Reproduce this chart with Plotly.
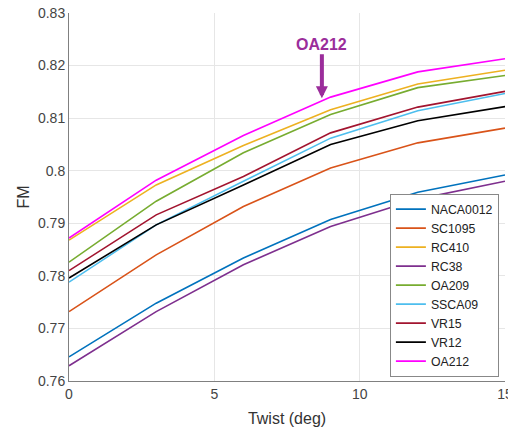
import plotly.graph_objects as go

twist = [0, 3, 6, 9, 12, 15]

names = ["NACA0012", "SC1095", "RC410", "RC38", "OA209", "SSCA09", "VR15", "VR12", "OA212"]
colors = ["#0072BD", "#D95319", "#EDB120", "#7E2F8E", "#77AC30", "#4DBEEE", "#A2142F", "#000000", "#FF00FF"]

naca0012 = [0.7646, 0.7748, 0.7834, 0.7907, 0.7959, 0.7992]
sc1095 = [0.7732, 0.7840, 0.7932, 0.8005, 0.8053, 0.8081]
rc410 = [0.7868, 0.7973, 0.8048, 0.8116, 0.8165, 0.8191]
rc38 = [0.7629, 0.7732, 0.7821, 0.7894, 0.7946, 0.7980]
oa209 = [0.7826, 0.7942, 0.8034, 0.8107, 0.8158, 0.8181]
ssca09 = [0.7788, 0.7897, 0.7980, 0.8062, 0.8114, 0.8147]
vr15 = [0.7810, 0.7916, 0.7989, 0.8072, 0.8121, 0.8151]
vr12 = [0.7796, 0.7897, 0.7973, 0.8050, 0.8095, 0.8122]
oa212 = [0.7872, 0.7982, 0.8067, 0.8140, 0.8188, 0.8213]

series = [naca0012, sc1095, rc410, rc38, oa209, ssca09, vr15, vr12, oa212]

fig = go.Figure()
for n, c, s in zip(names, colors, series):
    fig.add_trace(go.Scatter(x=twist, y=s, mode="lines", name=n,
                             line=dict(color=c, width=1.6)))

font_family = "Liberation Sans, Arial, sans-serif"

fig.add_annotation(x=8.7, y=0.8138, xref="x", yref="y", ax=0, ay=-54,
                   text="<b>OA212</b>", showarrow=True,
                   font=dict(size=16, color="#9B2D9B", family=font_family),
                   arrowcolor="#9B2D9B", arrowwidth=4, arrowhead=2, arrowsize=0.6,
                   standoff=0)

fig.update_layout(
    width=508, height=427,
    margin=dict(l=69, r=3, t=13, b=46, autoexpand=False),
    paper_bgcolor="white", plot_bgcolor="white",
    font=dict(family=font_family, size=14, color="#444444"),
    showlegend=True,
    legend=dict(x=0.986, y=0.012, xanchor="right", yanchor="bottom",
                bgcolor="white", bordercolor="#888888", borderwidth=1,
                font=dict(size=12.3, color="#222222"),
                tracegroupgap=0),
)

fig.update_xaxes(range=[0, 15], tickvals=[0, 5, 10, 15],
                 showgrid=True, gridcolor="#e6e6e6", gridwidth=1,
                 showline=True, linecolor="#808080", linewidth=1,
                 ticks="", zeroline=False, ticklabeloverflow="allow", automargin=False,
                 title=dict(text="Twist (deg)", font=dict(size=16, color="#333333"), standoff=13))
fig.update_yaxes(range=[0.76, 0.83], tickvals=[0.76, 0.77, 0.78, 0.79, 0.8, 0.81, 0.82, 0.83],
                 ticktext=["0.76", "0.77", "0.78", "0.79", "0.8", "0.81", "0.82", "0.83"],
                 showgrid=True, gridcolor="#e6e6e6", gridwidth=1,
                 showline=True, linecolor="#808080", linewidth=1,
                 ticks="", zeroline=False, automargin=False,
                 title=dict(text="FM", font=dict(size=16, color="#333333"), standoff=4))

fig.write_html("out.html")
